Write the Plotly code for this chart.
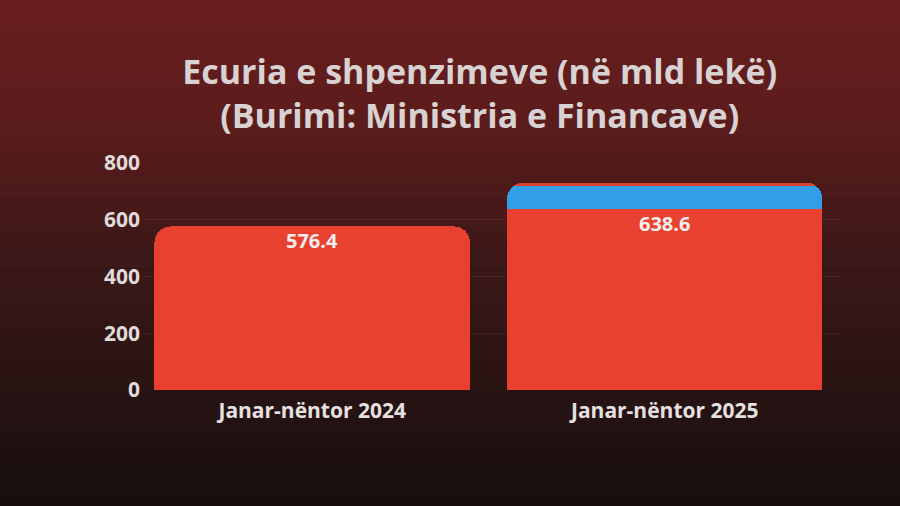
import plotly.graph_objects as go

categories = ["Janar-nëntor 2024", "Janar-nëntor 2025"]
base_values = [576.4, 638.6]
blue_values = [0, 80]
top_values = [0, 12]
base_labels = ["576.4", "638.6"]
y_ticks = [0, 200, 400, 600, 800]

RED = "#e9412f"
BLUE = "#339ee8"
TOP_RED = "#d8432c"
FONT = "Open Sans"

W, H = 900, 506
ML, MR, MT, MB = 143, 59, 163, 116
PW, PH = W - ML - MR, H - MT - MB

fig = go.Figure()
fig.add_bar(x=categories, y=base_values, marker=dict(color=RED, line=dict(width=0)),
            hoverinfo="skip")
fig.add_bar(x=categories, y=blue_values, marker=dict(color=BLUE, line=dict(width=0)),
            hoverinfo="skip")
fig.add_bar(x=categories, y=top_values, marker=dict(color=TOP_RED, line=dict(width=0)),
            hoverinfo="skip")

annotations = [
    dict(x=c, y=v, text=t, showarrow=False, xref="x", yref="y", yanchor="top", yshift=1,
         font=dict(family=FONT, size=20, color="#f5eeee", weight="bold"))
    for c, v, t in zip(categories, base_values, base_labels)
]

# background gradient (pixel rows -> paper coords)
stops = [(0, (106, 30, 30)), (120, (92, 28, 28)), (250, (62, 24, 24)), (380, (42, 20, 20)), (506, (24, 14, 14))]
def col(py):
    for i in range(len(stops) - 1):
        a, ca = stops[i]
        b, cb = stops[i + 1]
        if a <= py <= b:
            f = (py - a) / (b - a)
            return "rgb(%d,%d,%d)" % tuple(round(ca[k] + (cb[k] - ca[k]) * f) for k in range(3))
    return "rgb(24,14,14)"
shapes = []
N = 64
step = H / N
for i in range(N):
    top = i * step
    bot = (i + 1) * step
    shapes.append(dict(type="rect", xref="paper", yref="paper",
                       x0=-ML / PW - 0.05, x1=1 + MR / PW + 0.05,
                       y1=(H - MB - top) / PH + 0.004, y0=(H - MB - bot) / PH - 0.004,
                       fillcolor=col((top + bot) / 2), line=dict(width=0), layer="below"))

fig.update_layout(
    width=W, height=H,
    barmode="stack",
    bargap=0.105,
    barcornerradius=16,
    showlegend=False,
    paper_bgcolor="#3a1818",
    plot_bgcolor="rgba(0,0,0,0)",
    margin=dict(l=ML, r=MR, t=MT, b=MB),
    shapes=shapes,
    annotations=annotations,
    title=dict(text="Ecuria e shpenzimeve (në mld lekë)<br>(Burimi: Ministria e Financave)",
               x=0.533, xanchor="center", y=0.834, yanchor="middle",
               font=dict(family=FONT, size=34, color="#d8d2d2", weight="bold")),
    xaxis=dict(range=[-0.48, 1.5], showgrid=False, showline=False, zeroline=False,
               tickfont=dict(family=FONT, size=21, color="#e6e0e0", weight="bold"),
               ticks="", ticklabelstandoff=6),
    yaxis=dict(range=[0, 800], tickvals=y_ticks, showline=False, zeroline=False,
               gridcolor="rgba(255,255,255,0.06)",
               tickfont=dict(family=FONT, size=21, color="#e0dada", weight="bold"),
               ticks="", ticklabelstandoff=2),
)

fig.write_html("out.html", config={"displayModeBar": False},
               post_script="document.body.style.margin='0';document.body.style.overflow='hidden';")
